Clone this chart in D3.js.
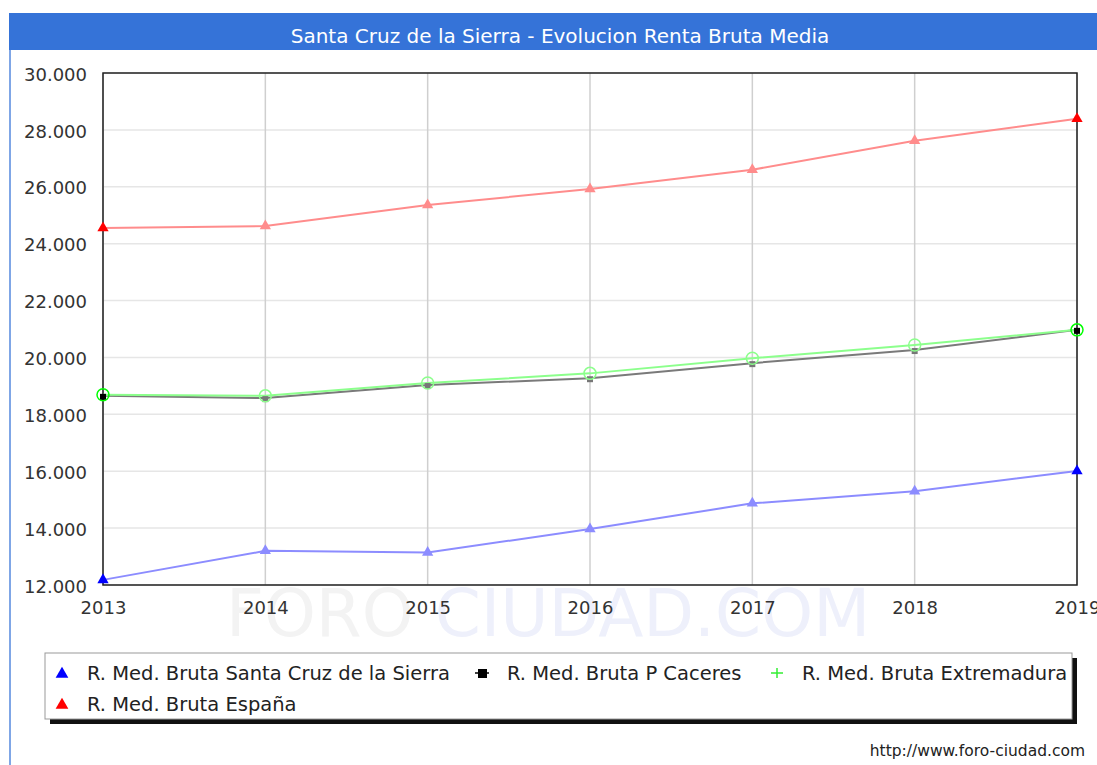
<!DOCTYPE html>
<html>
<head>
<meta charset="utf-8">
<script src="https://cdn.jsdelivr.net/npm/d3@7"></script>
<style>
  body { margin: 0; background: #fff; }
  svg { display: block; font-family: 'DejaVu Sans', sans-serif; }
</style>
</head>
<body>
<div id="chart"></div>
<script>
const years = [2013, 2014, 2015, 2016, 2017, 2018, 2019];
const santaCruz = [12180, 13200, 13140, 13970, 14870, 15300, 16010];
const caceres = [18650, 18570, 19030, 19270, 19800, 20260, 20970];
const extremadura = [18690, 18650, 19100, 19440, 19970, 20440, 20970];
const espana = [24550, 24620, 25360, 25920, 26600, 27620, 28390];
const yTicks = [12000, 14000, 16000, 18000, 20000, 22000, 24000, 26000, 28000, 30000];

const series = [
  { name: 'R. Med. Bruta Santa Cruz de la Sierra', values: santaCruz, line: '#8c8cff', mark: '#0000ff', shape: 'tri' },
  { name: 'R. Med. Bruta P Caceres', values: caceres, line: '#7a7a7a', mark: '#000000', shape: 'sq' },
  { name: 'R. Med. Bruta Extremadura', values: extremadura, line: '#8cff8c', mark: '#00ff00', shape: 'circ' },
  { name: 'R. Med. Bruta España', values: espana, line: '#ff8c8c', mark: '#ff0000', shape: 'tri' },
];

const W = 1097, H = 765;
const svg = d3.select('#chart').append('svg').attr('width', W).attr('height', H);

// frame + title bar
svg.append('line').attr('x1', 10).attr('x2', 10).attr('y1', 13).attr('y2', H)
  .attr('stroke', '#7fa6e6').attr('stroke-width', 2);
svg.append('rect').attr('x', 9).attr('y', 13).attr('width', W - 9).attr('height', 37).attr('fill', '#3573d8');
svg.append('text').attr('x', 560).attr('y', 43).attr('text-anchor', 'middle')
  .attr('fill', '#fff').style('font-size', '20px').text('Santa Cruz de la Sierra - Evolucion Renta Bruta Media');

const plotL = 103, plotR = 1077, plotT = 73, plotB = 585;
const x = d3.scalePoint().domain(years).range([plotL, plotR]);
const y = d3.scaleLinear().domain([12000, 30000]).range([plotB, plotT]);

// watermark
const wm = svg.append('text').attr('x', 548).attr('y', 636).attr('text-anchor', 'middle')
  .style('font-size', '66px');
wm.append('tspan').attr('fill', '#f3f3f3').text('FORO ');
wm.append('tspan').attr('fill', '#eef0fb').text('CIUDAD.COM');

// grid
svg.append('g').selectAll('line').data(yTicks).join('line')
  .attr('x1', plotL).attr('x2', plotR).attr('y1', d => y(d)).attr('y2', d => y(d))
  .attr('stroke', '#e6e6e6').attr('stroke-width', 1.5);
svg.append('g').selectAll('line').data(years).join('line')
  .attr('x1', d => x(d)).attr('x2', d => x(d)).attr('y1', plotT).attr('y2', plotB)
  .attr('stroke', '#cfcfcf').attr('stroke-width', 1.5);

// axes
const yAxis = svg.append('g').attr('transform', `translate(${plotL},0)`)
  .call(d3.axisLeft(y).tickValues(yTicks).tickSize(0).tickPadding(16)
    .tickFormat(d => d3.format(',')(d).replace(/,/g, '.')));
const xAxis = svg.append('g').attr('transform', `translate(0,${plotB})`)
  .call(d3.axisBottom(x).tickSize(0).tickPadding(16).tickFormat(d3.format('d')));
[yAxis, xAxis].forEach(a => {
  a.select('.domain').remove();
  a.selectAll('text').attr('fill', '#333').style('font-size', '18px').style('font-family', 'DejaVu Sans, sans-serif');
});
yAxis.selectAll('text').attr('dy', '0.4em');

svg.append('rect').attr('x', plotL).attr('y', plotT).attr('width', plotR - plotL).attr('height', plotB - plotT)
  .attr('fill', 'none').attr('stroke', '#222').attr('stroke-width', 1.5);

// lines
const line = d3.line().x((d, i) => x(years[i])).y(d => y(d));
const triPath = d3.symbol(d3.symbolTriangle, 55)();
const sqPath = d3.symbol(d3.symbolSquare, 36)();

function marker(g, s, px, py, solid) {
  const c = solid ? s.mark : s.line;
  if (s.shape === 'tri') {
    g.append('path').attr('d', triPath).attr('transform', `translate(${px},${py})`).attr('fill', c);
  } else if (s.shape === 'sq') {
    g.append('path').attr('d', sqPath).attr('transform', `translate(${px},${py + 1})`).attr('fill', solid ? '#000' : '#777');
  } else {
    g.append('circle').attr('cx', px).attr('cy', py).attr('r', 6)
      .attr('fill', 'none').attr('stroke', c).attr('stroke-width', 1.5);
  }
}

series.forEach(s => {
  svg.append('path').datum(s.values).attr('d', line).attr('fill', 'none')
    .attr('stroke', s.line).attr('stroke-width', 2);
});
series.forEach(s => {
  const g = svg.append('g');
  s.values.forEach((v, i) => marker(g, s, x(years[i]), y(v), i === 0 || i === years.length - 1));
});

// legend
const lx = 45, ly = 653, lw = 1027, lh = 66;
svg.append('rect').attr('x', lx + 5).attr('y', ly + 5).attr('width', lw).attr('height', lh).attr('fill', '#111');
svg.append('rect').attr('x', lx).attr('y', ly).attr('width', lw).attr('height', lh)
  .attr('fill', '#fff').attr('stroke', '#999');
const legendPos = [[62, 673], [482, 673], [777, 673], [62, 704]];
series.forEach((s, i) => {
  const [px, py] = legendPos[i];
  const g = svg.append('g');
  if (s.shape === 'tri') {
    g.append('path').attr('d', d3.symbol(d3.symbolTriangle, 70)()).attr('transform', `translate(${px},${py + 1})`).attr('fill', s.mark);
  } else if (s.shape === 'sq') {
    g.append('rect').attr('x', px - 4).attr('y', py - 4).attr('width', 9).attr('height', 9).attr('fill', '#000');
    g.append('line').attr('x1', px - 7).attr('x2', px + 7).attr('y1', py).attr('y2', py).attr('stroke', '#000').attr('stroke-width', 1.5);
  } else {
    g.append('line').attr('x1', px - 6).attr('x2', px + 6).attr('y1', py).attr('y2', py).attr('stroke', '#33ee33').attr('stroke-width', 1.5);
    g.append('line').attr('x1', px).attr('x2', px).attr('y1', py - 5).attr('y2', py + 5).attr('stroke', '#33ee33').attr('stroke-width', 1.5);
  }
  g.append('text').attr('x', px + 25).attr('y', py + 7).attr('fill', '#222')
    .style('font-size', '19.5px').text(s.name);
});

svg.append('text').attr('x', 1085).attr('y', 756).attr('text-anchor', 'end')
  .attr('fill', '#222').style('font-size', '15.5px')
  .text('http://www.foro-ciudad.com');
</script>
</body>
</html>
